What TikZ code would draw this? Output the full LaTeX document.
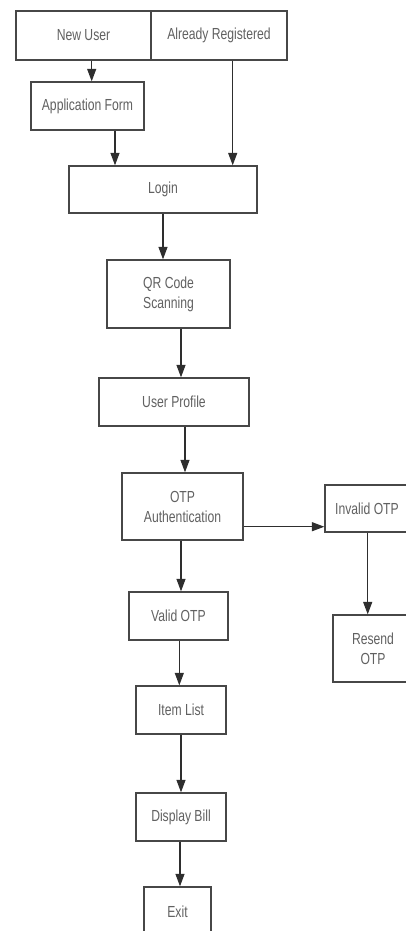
\documentclass[tikz,border=0pt]{standalone}
\usepackage{fontspec}
\setmainfont[FakeStretch=0.76]{Liberation Sans}
\usetikzlibrary{arrows.meta}
\begin{document}
\begin{tikzpicture}[x=1pt,y=-1pt,
  flowbox/.style={draw=black!72, line width=1.3pt, fill=white, inner sep=0pt,
    align=center, text=black!62, font=\fontsize{16}{20}\selectfont},
  arr/.style={draw=black!82, line width=1.2pt, -{Triangle[length=12.5pt,width=9pt]}}]
\useasboundingbox (0,0) rectangle (406,931);
\clip (0,0) rectangle (406,931);

\node[flowbox, minimum width=135pt, minimum height=49pt] (newuser) at (83.5,35.5) {New User};
\node[flowbox, minimum width=136pt, minimum height=49pt] (already) at (219,35.5) {Already Registered};
\node[flowbox, minimum width=113pt, minimum height=48pt] (appform) at (87.5,106) {Application Form};
\node[flowbox, minimum width=188pt, minimum height=47pt] (login) at (163,189.5) {Login};
\node[flowbox, minimum width=123pt, minimum height=68pt] (qr) at (168.5,294) {QR Code\\Scanning};
\node[flowbox, minimum width=150pt, minimum height=48pt] (profile) at (174,402) {User Profile};
\node[flowbox, minimum width=121pt, minimum height=67pt] (otp) at (182.5,506.5) {OTP\\Authentication};
\node[flowbox, minimum width=84pt, minimum height=47pt] (invalid) at (367,508.5) {Invalid OTP};
\node[flowbox, minimum width=99pt, minimum height=48pt] (valid) at (178.5,616) {Valid OTP};
\node[flowbox, minimum width=80pt, minimum height=67pt] (resend) at (373,648.5) {Resend\\OTP};
\node[flowbox, minimum width=90pt, minimum height=48pt] (item) at (181,710) {Item List};
\node[flowbox, minimum width=90pt, minimum height=48pt] (bill) at (181,817) {Display Bill};
\node[flowbox, minimum width=67pt, minimum height=50pt] (exit) at (177.5,912) {Exit};

\coordinate (xa) at (91.7,0);
\coordinate (xb) at (115,0);
\coordinate (xc) at (232.7,0);
\coordinate (xd) at (163,0);
\coordinate (xe) at (181,0);
\coordinate (xf) at (185,0);
\coordinate (xg) at (181,0);
\coordinate (xh) at (367.7,0);
\coordinate (xi) at (179.3,0);
\coordinate (xj) at (181,0);
\coordinate (xk) at (180,0);
\coordinate (ya) at (0,526.7);

\draw[arr] (newuser.south -| xa) -- (appform.north -| xa);
\draw[arr] (appform.south -| xb) -- (login.north -| xb);
\draw[arr] (already.south -| xc) -- (login.north -| xc);
\draw[arr] (login.south -| xd) -- (qr.north -| xd);
\draw[arr] (qr.south -| xe) -- (profile.north -| xe);
\draw[arr] (profile.south -| xf) -- (otp.north -| xf);
\draw[arr] (otp.east |- ya) -- (invalid.west |- ya);
\draw[arr] (otp.south -| xg) -- (valid.north -| xg);
\draw[arr] (invalid.south -| xh) -- (resend.north -| xh);
\draw[arr] (valid.south -| xi) -- (item.north -| xi);
\draw[arr] (item.south -| xj) -- (bill.north -| xj);
\draw[arr] (bill.south -| xk) -- (exit.north -| xk);
\end{tikzpicture}
\end{document}
